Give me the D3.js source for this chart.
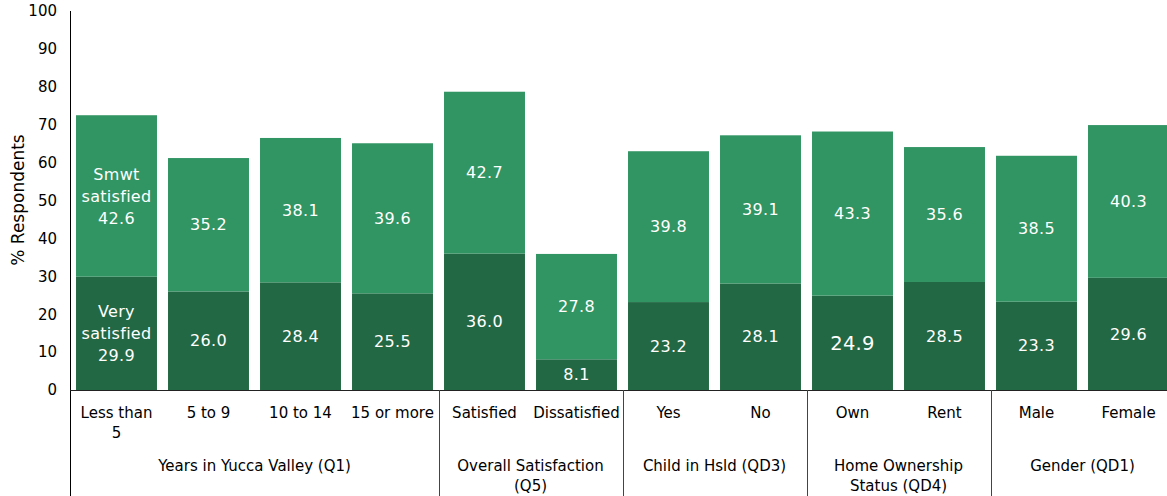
<!DOCTYPE html>
<html>
<head>
<meta charset="utf-8">
<script src="https://cdn.jsdelivr.net/npm/d3@7"></script>
<style>
  html, body { margin: 0; padding: 0; background: #fff; }
  svg { display: block; }
  text { font-family: "DejaVu Sans", sans-serif; }
</style>
</head>
<body>
<svg id="chart" width="1167" height="496"></svg>
<script>
// Categories along the x axis, in order
const categories = ["Less than 5", "5 to 9", "10 to 14", "15 or more",
  "Satisfied", "Dissatisfied", "Yes", "No", "Own", "Rent", "Male", "Female"];
// Category labels as drawn (line breaks)
const categoryLines = [["Less than", "5"], ["5 to 9"], ["10 to 14"], ["15 or more"],
  ["Satisfied"], ["Dissatisfied"], ["Yes"], ["No"], ["Own"], ["Rent"], ["Male"], ["Female"]];

// Group headers and how many categories each one spans
const groupNames = [["Years in Yucca Valley (Q1)"], ["Overall Satisfaction", "(Q5)"],
  ["Child in Hsld (QD3)"], ["Home Ownership", "Status (QD4)"], ["Gender (QD1)"]];
const groupSizes = [4, 2, 2, 2, 2];

// Series (stacked bottom to top)
const seriesNames = ["Very satisfied", "Smwt satisfied"];
const seriesLabelLines = [["Very", "satisfied"], ["Smwt", "satisfied"]];
const verySatisfied = [29.9, 26.0, 28.4, 25.5, 36.0, 8.1, 23.2, 28.1, 24.9, 28.5, 23.3, 29.6];
const smwtSatisfied = [42.6, 35.2, 38.1, 39.6, 42.7, 27.8, 39.8, 39.1, 43.3, 35.6, 38.5, 40.3];

const yTicks = [0, 10, 20, 30, 40, 50, 60, 70, 80, 90, 100];
const yTitle = "% Respondents";

const colors = ["#236844", "#319463"];

const svg = d3.select("#chart");

const rows = categories.map((c, i) => ({
  category: c,
  [seriesNames[0]]: verySatisfied[i],
  [seriesNames[1]]: smwtSatisfied[i]
}));

const x = d3.scaleBand()
  .domain(categories)
  .range([70.5, 1174.5])
  .paddingInner(0.12)
  .paddingOuter(0.06);

const y = d3.scaleLinear().domain([0, 100]).range([390, 11]);

const stacked = d3.stack().keys(seriesNames)(rows);

// Bars
const layers = svg.append("g").selectAll("g")
  .data(stacked)
  .join("g")
  .attr("fill", (d, i) => colors[i]);

layers.selectAll("rect")
  .data(d => d)
  .join("rect")
  .attr("x", d => x(d.data.category))
  .attr("width", x.bandwidth())
  .attr("y", d => y(d[1]))
  .attr("height", d => y(d[0]) - y(d[1]));

// Value labels, centered in each segment
const lineH = 22;
stacked.forEach((layer, si) => {
  layer.forEach((d, ci) => {
    const lines = ci === 0 ? [...seriesLabelLines[si], d3.format(".1f")(d[1] - d[0])]
                           : [d3.format(".1f")(d[1] - d[0])];
    const cx = x(d.data.category) + x.bandwidth() / 2;
    const cy = (y(d[0]) + y(d[1])) / 2;
    const big = si === 0 && d.data.category === "Own";
    const t = svg.append("text")
      .attr("x", cx)
      .attr("text-anchor", "middle")
      .attr("fill", "#ffffff")
      .attr("font-size", big ? 19.5 : 16)
      .attr("letter-spacing", 0.3);
    lines.forEach((ln, k) => {
      t.append("tspan")
        .attr("x", cx)
        .attr("y", cy + (k - (lines.length - 1) / 2) * lineH)
        .attr("dy", "0.35em")
        .text(ln);
    });
  });
});

// Y axis (labels only)
const yAxis = svg.append("g")
  .attr("transform", "translate(70,0)")
  .call(d3.axisLeft(y).tickValues(yTicks).tickSize(0).tickPadding(13));
yAxis.select(".domain").remove();
yAxis.selectAll("text")
  .attr("font-family", "DejaVu Sans, sans-serif")
  .attr("font-size", 15)
  .attr("fill", "#000");

svg.append("text")
  .attr("transform", "translate(24,200) rotate(-90)")
  .attr("text-anchor", "middle")
  .attr("font-size", 17)
  .attr("fill", "#000")
  .text(yTitle);

// Axis lines
svg.append("line")
  .attr("x1", 70.5).attr("x2", 70.5)
  .attr("y1", 11).attr("y2", 496)
  .attr("stroke", "#000").attr("stroke-width", 1);
svg.append("line")
  .attr("x1", 70).attr("x2", 1167)
  .attr("y1", 390.5).attr("y2", 390.5)
  .attr("stroke", "#222").attr("stroke-width", 1);

// Category labels
categories.forEach((c, i) => {
  const cx = x(c) + x.bandwidth() / 2;
  categoryLines[i].forEach((ln, k) => {
    svg.append("text")
      .attr("x", cx)
      .attr("y", 413 + k * 20)
      .attr("dy", "0.35em")
      .attr("text-anchor", "middle")
      .attr("font-size", 15)
      .attr("fill", "#000")
      .text(ln);
  });
});

// Group separators and group labels
let start = 0;
groupSizes.forEach((n, g) => {
  const left = x(categories[start]) - x.step() * x.paddingInner() / 2;
  const right = x(categories[start + n - 1]) + x.bandwidth() + x.step() * x.paddingInner() / 2;
  if (g > 0) {
    svg.append("line")
      .attr("x1", Math.round(left) + 0.5).attr("x2", Math.round(left) + 0.5)
      .attr("y1", 390).attr("y2", 496)
      .attr("stroke", "#444").attr("stroke-width", 1);
  }
  groupNames[g].forEach((ln, k) => {
    svg.append("text")
      .attr("x", (left + right) / 2)
      .attr("y", 466 + k * 20)
      .attr("dy", "0.35em")
      .attr("text-anchor", "middle")
      .attr("font-size", 15)
      .attr("fill", "#000")
      .text(ln);
  });
  start += n;
});
</script>
</body>
</html>
